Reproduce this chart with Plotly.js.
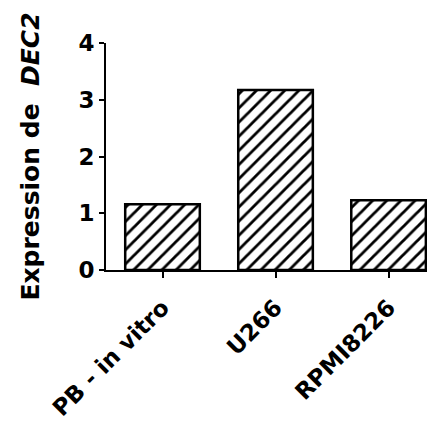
<!DOCTYPE html>
<html>
<head>
<meta charset="utf-8">
<script src="https://cdn.plot.ly/plotly-3.0.1.min.js"></script>
<style>html,body{margin:0;padding:0;background:#fff;}#chart{width:435px;height:421px;}</style>
</head>
<body>
<div id="chart"></div>
<script>
const categories = ["PB - in vitro", "U266", "RPMI8226"];
const expression = [1.16, 3.17, 1.23];
const yTicks = [0, 1, 2, 3, 4];

const font = "'DejaVu Sans', 'Liberation Sans', Arial, sans-serif";

const trace = {
  type: "bar",
  x: categories,
  y: expression,
  width: 0.66,
  marker: {
    color: "#ffffff",
    line: {color: "#000000", width: 2.5},
    pattern: {shape: "/", size: 10, solidity: 0.28, fgcolor: "#000000", bgcolor: "#ffffff", fgopacity: 1, fillmode: "overlay"}
  },
  hoverinfo: "none"
};

const layout = {
  width: 435,
  height: 421,
  margin: {l: 106, r: 8, t: 43, b: 151},
  paper_bgcolor: "#ffffff",
  plot_bgcolor: "#ffffff",
  showlegend: false,
  xaxis: {
    type: "category",
    range: [-0.5, 2.34],
    showline: true,
    linecolor: "#000000",
    linewidth: 2,
    ticks: "outside",
    ticklen: 6,
    tickwidth: 2,
    tickcolor: "#000000",
    tickangle: -45,
    ticklabelstandoff: 7,
    tickfont: {family: font, size: 23, color: "#000000", weight: "bold"},
    showgrid: false,
    zeroline: false,
    fixedrange: true
  },
  yaxis: {
    range: [0, 4],
    tickvals: yTicks,
    ticktext: yTicks.map(String),
    showline: true,
    linecolor: "#000000",
    linewidth: 2,
    ticks: "outside",
    ticklen: 5,
    tickwidth: 2,
    tickcolor: "#000000",
    tickfont: {family: font, size: 23, color: "#000000", weight: "bold"},
    showgrid: false,
    zeroline: false,
    fixedrange: true,
    title: {
      text: "Expression de\u00a0 <i>DEC2</i>",
      font: {family: font, size: 25, color: "#000000", weight: "bold"},
      standoff: 32
    }
  }
};

Plotly.newPlot("chart", [trace], layout, {displayModeBar: false, staticPlot: true});
</script>
</body>
</html>
